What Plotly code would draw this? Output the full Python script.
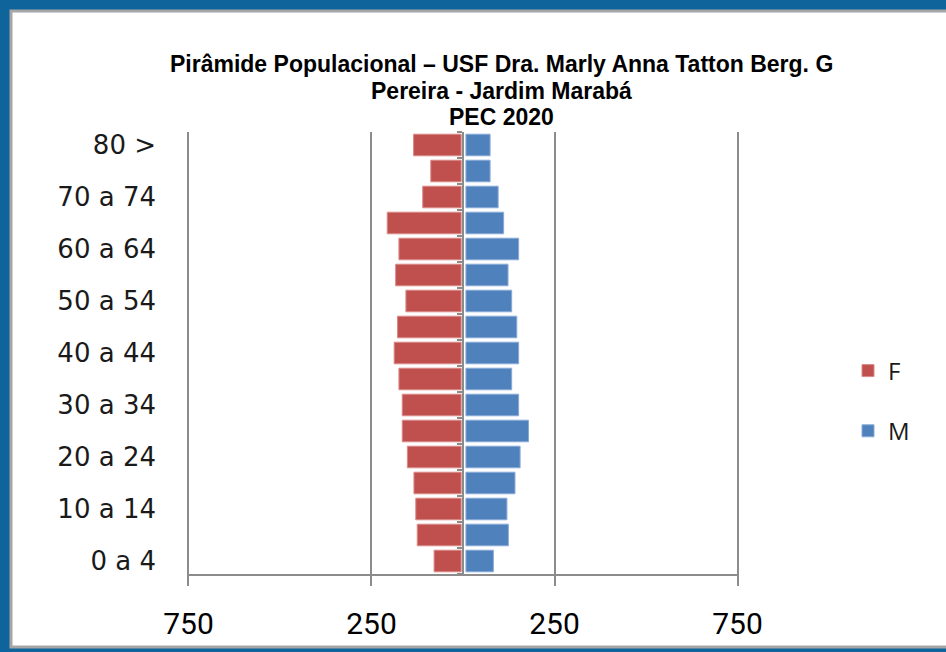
import plotly.graph_objects as go

# ---------------- data ----------------
age_groups = ["0 a 4", "5 a 9", "10 a 14", "15 a 19", "20 a 24", "25 a 29",
              "30 a 34", "35 a 39", "40 a 44", "45 a 49", "50 a 54", "55 a 59",
              "60 a 64", "65 a 69", "70 a 74", "75 a 79", "80 >"]
female = [74, 120, 124, 129, 147, 161, 161, 170, 183, 174, 151, 179, 170, 202, 105, 83, 130]
male = [75, 116, 112, 134, 148, 171, 144, 125, 144, 139, 125, 115, 144, 103, 88, 66, 66]
x_tick_values = [-750, -250, 250, 750]
x_tick_labels = ["750", "250", "250", "750"]
shown_age_labels = age_groups[::2]
title_lines = ["Pirâmide Populacional – USF Dra. Marly Anna Tatton Berg. G",
               "Pereira - Jardim Marabá", "PEC 2020"]

# ---------------- layout geometry ----------------
W, H = 946, 652
L, R, T, B = 187, 207, 132, 78
PW, PH = W - L - R, H - T - B


def px(x):
    return (x - L) / PW


def py(y):
    return (H - B - y) / PH


RED = "#C0504D"
BLUE = "#4F81BD"
GRID = "#8C8C8C"

fig = go.Figure()
fig.add_trace(go.Bar(
    y=age_groups, x=[-v for v in female], base=-5, orientation="h", name="F",
    marker=dict(color=RED, line=dict(color="#D98A88", width=1)),
    legendgroup="F", yaxis="y", hoverinfo="skip"))
fig.add_trace(go.Bar(
    y=age_groups, x=male, base=8, orientation="h", name="M",
    marker=dict(color=BLUE, line=dict(color="#8AAAD6", width=1)),
    legendgroup="M", yaxis="y2", hoverinfo="skip"))

fig.update_layout(
    width=W, height=H, autosize=False,
    margin=dict(l=L, r=R, t=T, b=B),
    paper_bgcolor="#0E649B", plot_bgcolor="white",
    barmode="overlay", bargap=0.17,
    xaxis=dict(range=[-754, 754], tickvals=x_tick_values, ticktext=x_tick_labels,
               showgrid=True, gridcolor=GRID, gridwidth=2, zeroline=False,
               showline=True, linecolor=GRID, linewidth=2,
               ticks="outside", ticklen=10, tickcolor=GRID, tickwidth=2,
               ticklabelstandoff=12,
               tickfont=dict(family="Liberation Sans Narrow, Arial Narrow, Roboto", size=30, color="black")),
    yaxis=dict(type="category", categoryorder="array", categoryarray=age_groups,
               range=[-0.5, len(age_groups) - 0.5],
               tickvals=shown_age_labels, ticktext=shown_age_labels,
               showgrid=False, showline=False, zeroline=False, ticks="",
               ticklabelstandoff=30,
               tickfont=dict(family="DejaVu Sans", size=26, color="#1a1a1a")),
    yaxis2=dict(type="category", categoryorder="array", categoryarray=age_groups,
                matches="y", overlaying="y", anchor="free", position=0.5, side="left",
                showticklabels=False, showgrid=False, zeroline=False,
                showline=True, linecolor=GRID, linewidth=2,
                ticks="outside", tickson="boundaries", ticklen=5, tickcolor=GRID, tickwidth=2),
    legend=dict(x=px(848), y=py(401), xanchor="left", yanchor="middle",
                traceorder="grouped", tracegroupgap=26, bgcolor="rgba(0,0,0,0)",
                font=dict(family="Open Sans", size=24, color="#1a1a1a"),
                itemwidth=30),
    showlegend=True,
)

# title: three centred bold lines
title_centres_y = [64, 91, 117]
for line, yc in zip(title_lines, title_centres_y):
    fig.add_annotation(text=f"<b>{line}</b>", xref="paper", yref="paper",
                       x=px(501), y=py(yc), xanchor="center", yanchor="middle",
                       showarrow=False,
                       font=dict(family="Liberation Sans, Arial", size=23, color="black"))

# frame: white panel with grey inner edge over the blue border
fig.add_shape(type="rect", xref="paper", yref="paper", layer="below",
              x0=px(11), x1=px(952), y0=py(647), y1=py(11),
              fillcolor="white", line=dict(color="#A6A6A6", width=3))

fig.write_html("out.html", config={"displayModeBar": False},
               post_script="document.body.style.margin='0';document.body.style.overflow='hidden';")
